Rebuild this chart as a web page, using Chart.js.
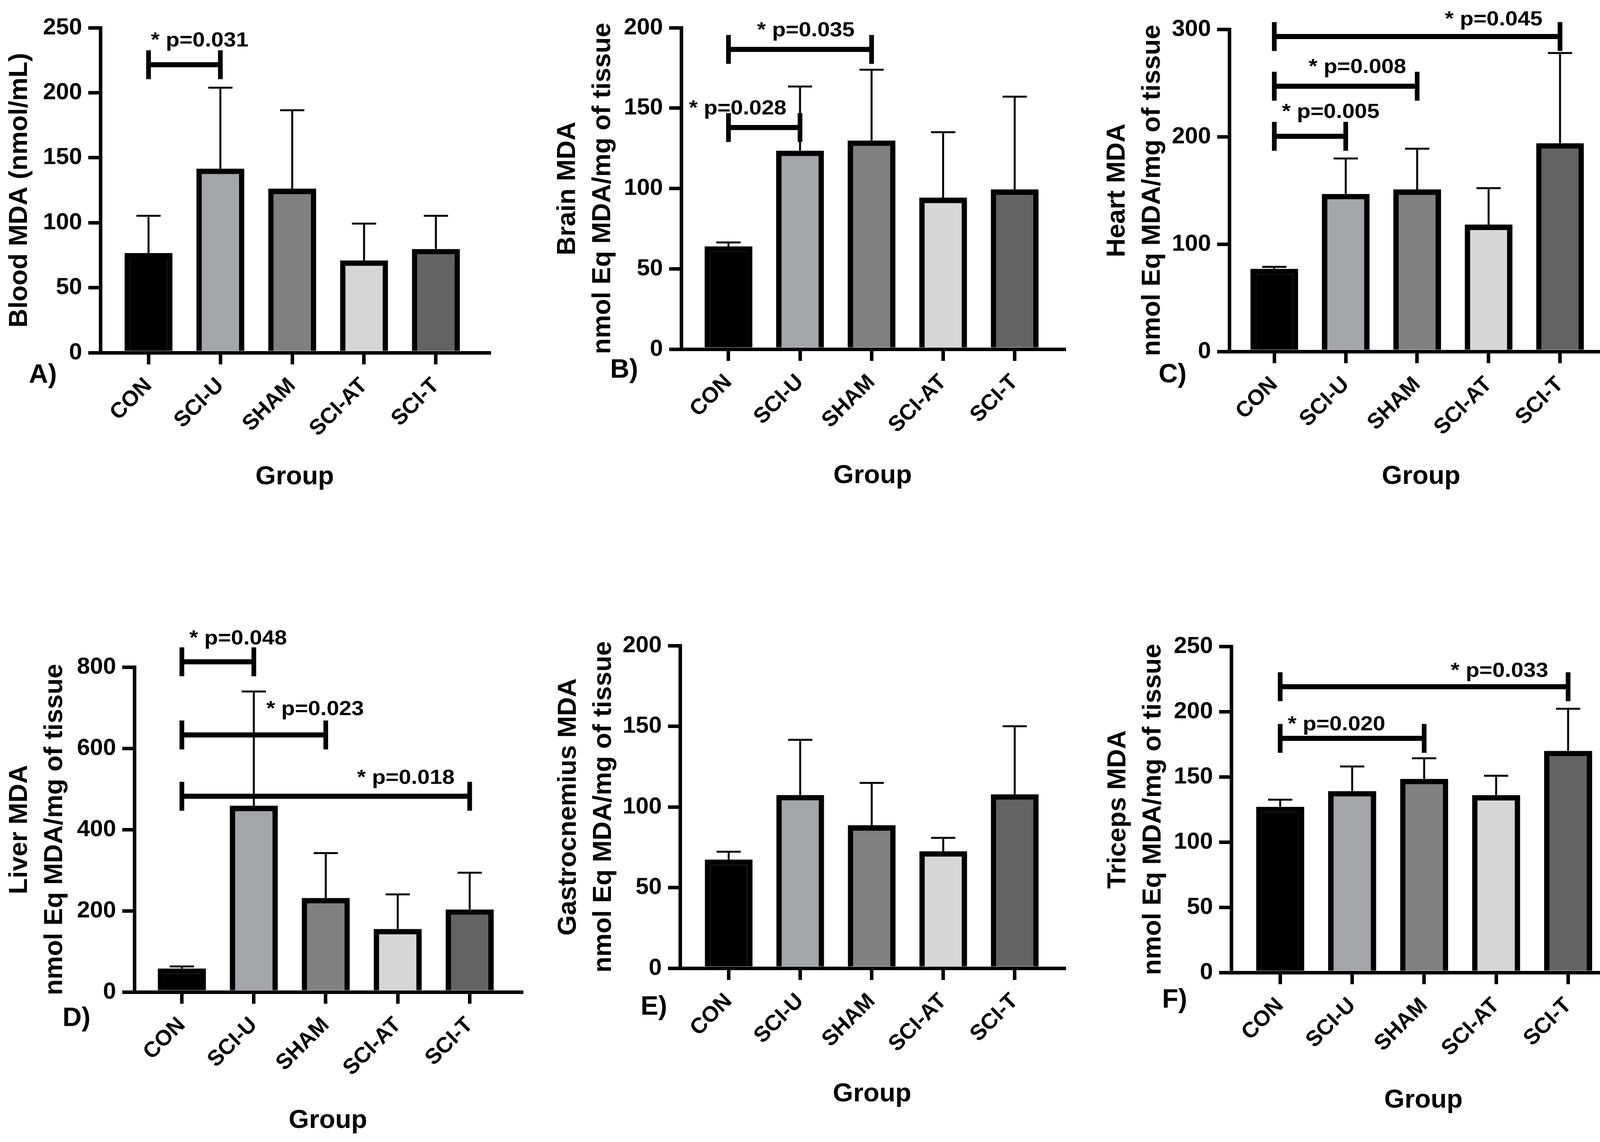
<!DOCTYPE html>
<html><head><meta charset="utf-8">
<script src="https://cdn.jsdelivr.net/npm/chart.js@4.4.1/dist/chart.umd.min.js"></script>
<style>
html,body{margin:0;padding:0;background:#fff;}
body{width:4159px;height:2924px;position:relative;overflow:hidden;}
canvas{position:absolute;}
</style></head><body>
<canvas id="cA"></canvas><canvas id="cB"></canvas><canvas id="cC"></canvas>
<canvas id="cD"></canvas><canvas id="cE"></canvas><canvas id="cF"></canvas>
<script>
// ---------------- DATA ----------------
const groups = ['CON', 'SCI-U', 'SHAM', 'SCI-AT', 'SCI-T'];
const barColors = ['#000000', '#a4a5a9', '#808080', '#d6d6d6', '#636363'];

const bloodMean = [76.6, 141.6, 126.2, 71.0, 79.8];
const bloodSD   = [28.7, 62.3, 60.3, 28.3, 25.5];
const bloodTicks = [0, 50, 100, 150, 200, 250];
const bloodSig = [{from: 0, to: 1, level: 221.5, text: '* p=0.031'}];

const brainMean = [64.0, 123.5, 129.8, 94.3, 99.4];
const brainSD   = [2.4, 39.9, 44.1, 40.7, 57.7];
const brainTicks = [0, 50, 100, 150, 200];
const brainSig = [
  {from: 0, to: 2, level: 186.5, text: '* p=0.035'},
  {from: 0, to: 1, level: 137.9, text: '* p=0.028'}
];

const heartMean = [77.0, 146.7, 150.9, 118.2, 193.9];
const heartSD   = [1.8, 33.0, 37.9, 33.9, 84.0];
const heartTicks = [0, 100, 200, 300];
const heartSig = [
  {from: 0, to: 4, level: 293.3, text: '* p=0.045'},
  {from: 0, to: 2, level: 247.0, text: '* p=0.008'},
  {from: 0, to: 1, level: 200.4, text: '* p=0.005'}
];

const liverMean = [58.0, 458.6, 231.4, 155.2, 203.4];
const liverSD   = [5.0, 281.4, 110.6, 85.2, 90.4];
const liverTicks = [0, 200, 400, 600, 800];
const liverSig = [
  {from: 0, to: 1, level: 813, text: '* p=0.048'},
  {from: 0, to: 2, level: 633, text: '* p=0.023'},
  {from: 0, to: 4, level: 482, text: '* p=0.018'}
];

const gastroMean = [67.4, 107.4, 88.6, 72.5, 107.8];
const gastroSD   = [4.8, 34.2, 26.3, 8.3, 42.2];
const gastroTicks = [0, 50, 100, 150, 200];
const gastroSig = [];

const tricepsMean = [127.0, 139.1, 148.4, 136.0, 169.9];
const tricepsSD   = [5.5, 18.8, 15.8, 14.8, 32.3];
const tricepsTicks = [0, 50, 100, 150, 200, 250];
const tricepsSig = [
  {from: 0, to: 4, level: 219.1, text: '* p=0.033'},
  {from: 0, to: 2, level: 179.5, text: '* p=0.020'}
];

// ---------------- LAYOUT / STYLE ----------------
const FONT = "'Liberation Sans', Arial, Helvetica, sans-serif";
const TITLE_SIZE = 67, TITLE_LH = 1.343;
const panels = [
  {id: 'cA', letter: 'A)', yTitle: 'Blood MDA (nmol/mL)', mean: bloodMean, sd: bloodSD, ticks: bloodTicks, sig: bloodSig,
   box: {cx: 0, cy: 0, cw: 1390, ch: 1380}, area: {left: 257, top: 71, right: 1252, bottom: 903}, xr: [-0.67, 4.74],
   titleX: 51, groupY: 1222, letterOff: [-183, 77], sigOff: [[39, 47]]},
  {id: 'cB', letter: 'B)', yTitle: ['Brain MDA', 'nmol Eq MDA/mg of tissue'], mean: brainMean, sd: brainSD, ticks: brainTicks, sig: brainSig,
   box: {cx: 1390, cy: 0, cw: 1400, ch: 1380}, area: {left: 1744, top: 71, right: 2724, bottom: 894}, xr: [-0.66, 4.69],
   titleX: 1454, groupY: 1219, letterOff: [-182, 73], sigOff: [[15, 34], [-68, 34]]},
  {id: 'cC', letter: 'C)', yTitle: ['Heart MDA', 'nmol Eq MDA/mg of tissue'], mean: heartMean, sd: heartSD, ticks: heartTicks, sig: heartSig,
   box: {cx: 2790, cy: 0, cw: 1369, ch: 1380}, area: {left: 3147, top: 75, right: 4129, bottom: 900}, xr: [-0.63, 4.74],
   titleX: 2861, groupY: 1221, letterOff: [-181, 79], sigOff: [[196, 28], [30, 34], [53, 47]]},
  {id: 'cD', letter: 'D)', yTitle: ['Liver MDA', 'nmol Eq MDA/mg of tissue'], mean: liverMean, sd: liverSD, ticks: liverTicks, sig: liverSig,
   box: {cx: 0, cy: 1400, cw: 1390, ch: 1524}, area: {left: 344, top: 1708, right: 1335, bottom: 2540}, xr: [-0.66, 4.72],
   titleX: 51, groupY: 2870, letterOff: [-184, 87], sigOff: [[52, 44], [157, 51], [205, 32]]},
  {id: 'cE', letter: 'E)', yTitle: ['Gastrocnemius MDA', 'nmol Eq MDA/mg of tissue'], mean: gastroMean, sd: gastroSD, ticks: gastroTicks, sig: gastroSig,
   box: {cx: 1390, cy: 1400, cw: 1400, ch: 1524}, area: {left: 1741, top: 1653, right: 2724, bottom: 2479}, xr: [-0.68, 4.69],
   titleX: 1456, groupY: 2802, letterOff: [-101, 119], sigOff: []},
  {id: 'cF', letter: 'F)', yTitle: ['Triceps MDA', 'nmol Eq MDA/mg of tissue'], mean: tricepsMean, sd: tricepsSD, ticks: tricepsTicks, sig: tricepsSig,
   box: {cx: 2790, cy: 1400, cw: 1369, ch: 1524}, area: {left: 3152, top: 1655, right: 4136, bottom: 2490}, xr: [-0.68, 4.66],
   titleX: 2863, groupY: 2818, letterOff: [-177, 90], sigOff: [[193, 25], [-40, 20]]}
];

function makePanel(P) {
  const B = P.box, A = P.area;
  const canvas = document.getElementById(P.id);
  canvas.width = B.cw; canvas.height = B.ch;
  canvas.style.left = B.cx + 'px'; canvas.style.top = B.cy + 'px';
  canvas.style.width = B.cw + 'px'; canvas.style.height = B.ch + 'px';
  const halfLH = TITLE_SIZE * TITLE_LH / 2;
  const yW = A.left - B.cx;
  const xBottom = P.groupY + halfLH + 5;
  const xH = xBottom - A.bottom;
  const yTitlePad = P.titleX - halfLH - B.cx;

  const errorBars = {
    id: 'errorBars_' + P.id,
    afterDatasetsDraw(chart) {
      const ctx = chart.ctx, ys = chart.scales.y;
      const meta = chart.getDatasetMeta(0);
      ctx.save();
      ctx.strokeStyle = '#000'; ctx.lineWidth = 5; ctx.lineCap = 'butt';
      meta.data.forEach((bar, i) => {
        const top = ys.getPixelForValue(P.mean[i] + P.sd[i]);
        ctx.beginPath();
        ctx.moveTo(bar.x, bar.y); ctx.lineTo(bar.x, top);
        ctx.moveTo(bar.x - 31, top); ctx.lineTo(bar.x + 31, top);
        ctx.stroke();
      });
      ctx.restore();
    }
  };
  const annotations = {
    id: 'annot_' + P.id,
    afterDraw(chart) {
      const ctx = chart.ctx, xs = chart.scales.x, ys = chart.scales.y;
      ctx.save();
      ctx.strokeStyle = '#000'; ctx.fillStyle = '#000'; ctx.lineCap = 'butt';
      P.sig.forEach((s, k) => {
        const x1 = xs.getPixelForValue(s.from), x2 = xs.getPixelForValue(s.to);
        const y = ys.getPixelForValue(s.level);
        ctx.lineWidth = 13;
        ctx.beginPath(); ctx.moveTo(x1, y); ctx.lineTo(x2, y); ctx.stroke();
        ctx.lineWidth = 12;
        ctx.beginPath();
        ctx.moveTo(x1, y - 37); ctx.lineTo(x1, y + 37);
        ctx.moveTo(x2, y - 37); ctx.lineTo(x2, y + 37);
        ctx.stroke();
        const off = P.sigOff[k] || [0, 40];
        ctx.save();
        ctx.translate((x1 + x2) / 2 + off[0], y - off[1]);
        ctx.scale(1.1, 1);
        ctx.font = 'bold 52px ' + FONT;
        ctx.textAlign = 'center'; ctx.textBaseline = 'alphabetic';
        ctx.fillText(s.text, 0, 0);
        ctx.restore();
      });
      const ca = chart.chartArea;
      ctx.font = 'bold 68px ' + FONT;
      ctx.textAlign = 'left'; ctx.textBaseline = 'alphabetic';
      ctx.fillText(P.letter, ca.left + P.letterOff[0], ca.bottom + P.letterOff[1]);
      ctx.restore();
    }
  };

  new Chart(canvas, {
    type: 'bar',
    data: {
      datasets: [{
        data: groups.map((g, i) => ({x: i, y: P.mean[i]})),
        backgroundColor: barColors,
        borderColor: '#000',
        borderWidth: 14,
        borderSkipped: 'start',
        categoryPercentage: 1,
        barPercentage: 0.668
      }]
    },
    options: {
      responsive: false, animation: false, devicePixelRatio: 1,
      layout: {padding: {left: 0, top: A.top - B.cy, right: B.cx + B.cw - A.right, bottom: B.cy + B.ch - xBottom}},
      plugins: {legend: {display: false}, tooltip: {enabled: false}},
      scales: {
        x: {
          type: 'linear', min: P.xr[0], max: P.xr[1], z: 1, bounds: 'data', offset: false,
          afterBuildTicks: s => { s.ticks = groups.map((g, i) => ({value: i})); },
          afterFit: s => { s.height = xH; },
          ticks: {
            callback: v => groups[v], autoSkip: false, minRotation: 45, maxRotation: 45,
            font: {family: FONT, size: 56, weight: 'bold'}, color: '#000', padding: 22
          },
          grid: {offset: false, drawOnChartArea: false, drawTicks: true, tickLength: 30, tickWidth: 9, lineWidth: 9, tickColor: '#000', color: '#000'},
          border: {display: true, color: '#000', width: 9},
          title: {display: true, text: 'Group', color: '#000',
                  font: {family: FONT, size: TITLE_SIZE, weight: 'bold', lineHeight: TITLE_LH},
                  padding: {top: 0, bottom: 5}}
        },
        y: {
          min: 0, max: P.ticks[P.ticks.length - 1],
          afterBuildTicks: s => { s.ticks = P.ticks.map(v => ({value: v})); },
          afterFit: s => { s.width = yW; },
          ticks: {font: {family: FONT, size: 60, weight: 'bold'}, color: '#000', padding: 16},
          grid: {drawOnChartArea: false, drawTicks: true, tickLength: 31, tickWidth: 9, lineWidth: 9, tickColor: '#000', color: '#000'},
          border: {display: true, color: '#000', width: 9},
          title: {display: true, text: P.yTitle, color: '#000',
                  font: {family: FONT, size: TITLE_SIZE, weight: 'bold', lineHeight: TITLE_LH},
                  padding: {top: yTitlePad, bottom: 0}}
        }
      }
    },
    plugins: [errorBars, annotations]
  });
}
panels.forEach(makePanel);
</script>
</body></html>
